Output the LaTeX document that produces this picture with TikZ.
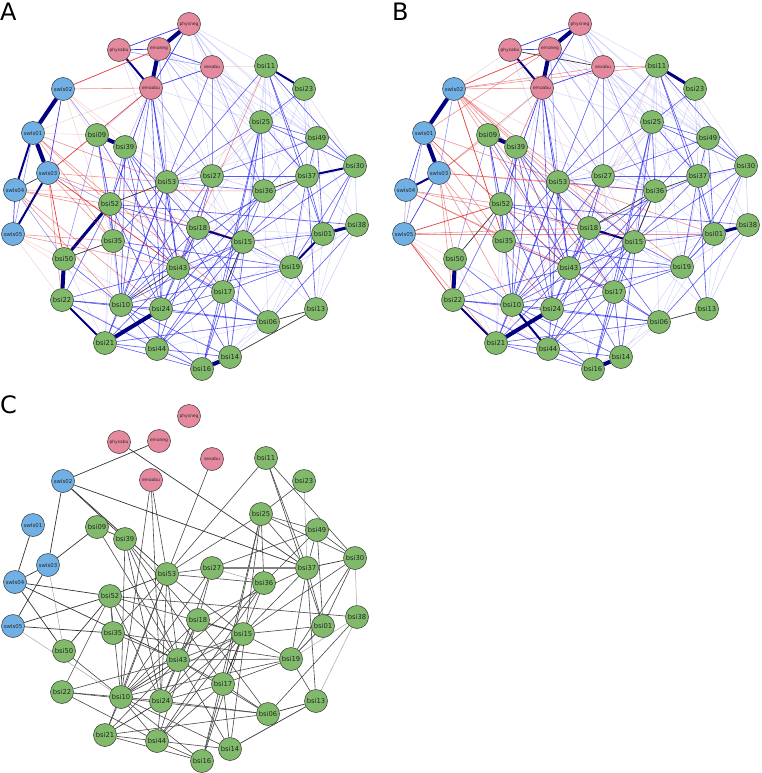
\documentclass[tikz,border=0pt]{standalone}
\usepackage{fontspec}
\setmainfont{DejaVu Sans}
\pgfdeclarelayer{bg}
\pgfsetlayers{bg,main}
\definecolor{gfill}{RGB}{128,186,106}
\definecolor{bfill}{RGB}{112,176,228}
\definecolor{pfill}{RGB}{229,138,158}
\definecolor{posc}{RGB}{25,25,235}
\definecolor{navyc}{RGB}{0,0,128}
\definecolor{negc}{RGB}{222,40,40}
\tikzset{
 vbase/.style={circle,draw=black!80,line width=0.5pt,minimum size=23pt,inner sep=0pt},
 gnode/.style={vbase,fill=gfill,font=\fontsize{6.8}{6}\selectfont,text=black!85},
 bnode/.style={vbase,fill=bfill,font=\fontsize{5.4}{5}\selectfont,text=black!85},
 pnode/.style={vbase,fill=pfill,font=\fontsize{4.4}{4}\selectfont,text=black!85},
 panellabel/.style={anchor=base west,inner sep=0pt,font=\fontsize{24}{24}\selectfont},
 w9/.style={draw=navyc,line width=4pt},
 w8/.style={draw=navyc,line width=3pt},
 w7/.style={draw=navyc,line width=2pt},
 w5/.style={draw=posc,line width=0.7pt,draw opacity=0.85},
 w3/.style={draw=posc,line width=0.6pt,draw opacity=0.45},
 w1/.style={draw=posc,line width=0.5pt,draw opacity=0.18},
 r5/.style={draw=negc,line width=0.7pt,draw opacity=0.9},
 r3/.style={draw=negc,line width=0.6pt,draw opacity=0.5},
 r1/.style={draw=negc,line width=0.5pt,draw opacity=0.22},
 ek/.style={draw=black!80,line width=0.7pt},
 eg/.style={draw=black!35,line width=0.5pt},
 egthick/.style={draw=black!50,line width=1.3pt},
 edgeam/.style={draw=posc,line width=0.6pt,draw opacity=0.72},
 edgeal/.style={draw=posc,line width=0.5pt,draw opacity=0.25},
 edgebm/.style={draw=posc,line width=0.6pt,draw opacity=0.72},
 edgebl/.style={draw=posc,line width=0.5pt,draw opacity=0.25},
 edgecm/.style={draw=black!72,line width=0.6pt},
 edgecl/.style={draw=black!35,line width=0.5pt},
}
\def\NodeList{physneg/189/24/pnode, physabu/119/50/pnode, emoneg/159/49/pnode, sexabu/212/67/pnode, emoabu/151/88/pnode,
swls02/63/89/bnode, swls01/33/133/bnode, swls03/48/173/bnode, swls04/15/190/bnode, swls05/13/234/bnode,
bsi11/266/66/gnode, bsi23/304/89/gnode, bsi25/261/122/gnode, bsi49/317/138/gnode, bsi30/355/166/gnode,
bsi37/307/176/gnode, bsi36/264/191/gnode, bsi27/212/176/gnode, bsi53/167/182/gnode, bsi09/97/135/gnode,
bsi39/125/147/gnode, bsi52/110/204/gnode, bsi35/113/241/gnode, bsi50/64/259/gnode, bsi22/62/300/gnode,
bsi10/121/305/gnode, bsi24/161/309/gnode, bsi21/105/343/gnode, bsi44/157/349/gnode, bsi16/202/369/gnode,
bsi14/230/357/gnode, bsi06/268/322/gnode, bsi13/316/309/gnode, bsi17/223/292/gnode, bsi43/178/268/gnode,
bsi18/198/228/gnode, bsi15/243/242/gnode, bsi19/291/267/gnode, bsi01/323/234/gnode, bsi38/357/225/gnode}
\def\CoreEdges{bsi11/bsi53/m, bsi11/bsi37/m, bsi11/bsi30/m, bsi11/bsi01/m, bsi23/bsi25/m, bsi23/bsi37/l,
bsi25/bsi53/m, bsi25/bsi49/m, bsi25/bsi30/m, bsi25/bsi36/m, bsi25/bsi37/m, bsi25/bsi17/m, bsi25/bsi14/m, bsi25/bsi16/m,
bsi49/bsi37/m, bsi49/bsi30/m, bsi49/bsi27/m, bsi49/bsi36/m, bsi49/bsi01/m, bsi37/bsi27/m, bsi37/bsi01/m, bsi37/bsi19/m,
bsi37/bsi15/m, bsi37/bsi18/m, bsi37/bsi13/m, bsi30/bsi38/l, bsi30/bsi01/m, bsi30/bsi19/m, bsi30/bsi15/m,
bsi27/bsi53/m, bsi27/bsi18/m, bsi27/bsi43/m, bsi27/bsi36/l, bsi27/bsi10/m, bsi53/bsi35/m, bsi53/bsi43/m, bsi53/bsi24/m,
bsi53/bsi10/m, bsi53/bsi36/m, bsi53/bsi15/m, bsi53/bsi21/m, bsi39/bsi43/m, bsi39/bsi10/m, bsi39/bsi24/m, bsi39/bsi18/m,
bsi39/bsi17/m, bsi09/bsi43/m, bsi52/bsi35/m, bsi52/bsi22/m, bsi52/bsi43/m, bsi52/bsi38/m, bsi52/bsi10/m, bsi52/bsi24/m,
bsi52/bsi15/m, bsi35/bsi43/m, bsi35/bsi19/m, bsi50/bsi10/m, bsi22/bsi06/m, bsi22/bsi10/m, bsi22/bsi43/m, bsi22/bsi44/m,
bsi10/bsi24/m, bsi10/bsi21/m, bsi10/bsi44/m, bsi10/bsi14/m, bsi10/bsi16/m, bsi10/bsi18/m, bsi10/bsi15/m, bsi10/bsi19/m,
bsi24/bsi44/m, bsi24/bsi43/m, bsi24/bsi06/m, bsi24/bsi15/m, bsi24/bsi17/m, bsi24/bsi18/m, bsi21/bsi44/m, bsi21/bsi16/m,
bsi21/bsi06/m, bsi21/bsi43/m, bsi44/bsi16/m, bsi44/bsi14/m, bsi44/bsi17/m, bsi44/bsi15/m, bsi44/bsi18/m, bsi16/bsi17/m,
bsi16/bsi15/m, bsi14/bsi17/m, bsi14/bsi43/m, bsi06/bsi17/m, bsi06/bsi38/m, bsi06/bsi43/m, bsi06/bsi18/m, bsi13/bsi19/m,
bsi13/bsi38/l, bsi17/bsi43/m, bsi17/bsi19/m, bsi43/bsi19/m, bsi43/bsi18/m, bsi43/bsi15/m, bsi15/bsi01/m, bsi15/bsi19/m,
bsi19/bsi38/l, bsi36/bsi17/m, bsi36/bsi10/m, bsi36/bsi24/m, bsi36/bsi44/m,
emoabu/bsi53/m, emoabu/bsi10/m, emoabu/bsi24/m, sexabu/bsi53/m}
\def\PaleEdges{bsi11/bsi25/w1, bsi11/bsi49/w1, bsi11/bsi36/w1, bsi11/bsi27/w1, bsi11/bsi15/w1, bsi11/bsi19/w1,
bsi23/bsi49/w1, bsi23/bsi30/w1, bsi23/bsi36/w1, bsi23/bsi01/w1, bsi23/bsi27/w1, bsi25/bsi27/w1, bsi25/bsi15/w1,
bsi25/bsi18/w1, bsi49/bsi38/w1, bsi49/bsi19/w1, bsi49/bsi53/w1, bsi30/bsi13/w1, bsi30/bsi36/w1, bsi37/bsi38/w1,
bsi37/bsi53/w1, bsi36/bsi19/w1, bsi36/bsi01/w1, bsi36/bsi06/w1, bsi27/bsi15/w1, bsi27/bsi17/w1, bsi27/bsi39/w1,
bsi27/bsi24/w1, bsi53/bsi18/w1, bsi53/bsi17/w1, bsi53/bsi44/w1, bsi39/bsi35/w1, bsi39/bsi52/w1, bsi39/bsi53/w1,
bsi09/bsi35/w1, bsi09/bsi10/w1, bsi52/bsi18/w1, bsi52/bsi21/w1, bsi35/bsi10/w1, bsi35/bsi24/w1, bsi35/bsi18/w1,
bsi35/bsi21/w1, bsi50/bsi21/w1, bsi50/bsi24/w1, bsi22/bsi24/w1, bsi22/bsi16/w1, bsi44/bsi06/w1, bsi16/bsi06/w1,
bsi14/bsi06/w1, bsi14/bsi15/w1, bsi14/bsi19/w1, bsi16/bsi43/w1, bsi06/bsi19/w1, bsi06/bsi01/w1, bsi13/bsi01/w1,
bsi13/bsi15/w1, bsi17/bsi01/w1, bsi17/bsi18/w1, bsi18/bsi19/w1, bsi18/bsi01/w1, bsi15/bsi38/w1, bsi43/bsi01/w1,
emoabu/bsi39/w1, emoabu/bsi09/w1, emoabu/bsi35/w1, emoabu/bsi18/w1, emoabu/bsi25/w1, emoneg/bsi25/w1, emoneg/bsi49/w1,
physneg/bsi25/w1, physneg/bsi37/w1, physneg/bsi30/w1, sexabu/bsi49/w1, sexabu/bsi37/w1, sexabu/bsi30/w1,
sexabu/bsi01/w1, physabu/bsi53/w1, emoneg/bsi27/w1, emoabu/bsi43/w5, emoabu/bsi52/w5, emoabu/bsi27/w3,
sexabu/bsi36/w3, sexabu/bsi27/w3, emoneg/bsi36/w3, emoneg/bsi53/w3, physneg/bsi36/w1, physneg/bsi27/w1,
sexabu/bsi25/w1, physneg/bsi49/w1, emoneg/bsi37/w1, physabu/bsi15/w1, physneg/bsi11/w1,
bsi09/bsi52/w5, bsi09/bsi35/w3, bsi39/bsi52/w3, bsi09/bsi50/w3, bsi39/bsi35/w3}
\def\AEdges{physneg/emoneg/w9, emoneg/emoabu/w9, physabu/emoabu/w7, physneg/physabu/w5, physabu/emoneg/w5,
emoneg/sexabu/w5, physneg/sexabu/w3, physneg/emoabu/w5, emoabu/sexabu/w5, physabu/sexabu/w3,
swls02/swls01/w9, swls01/swls03/w9, swls03/swls05/w7, swls01/swls04/w7, swls03/swls04/ek, swls02/swls03/w5,
swls04/swls05/w5, swls01/swls05/w3,
bsi09/bsi39/w9, bsi11/bsi23/w7, bsi37/bsi30/w7, bsi52/bsi50/w8, bsi50/bsi22/w9, bsi22/bsi21/w7, bsi21/bsi24/w9,
bsi16/bsi14/w9, bsi18/bsi15/w7, bsi01/bsi38/w8, bsi01/bsi19/w7, bsi53/bsi52/ek, bsi15/bsi17/ek, bsi37/bsi36/ek,
bsi06/bsi13/ek, bsi14/bsi13/ek, bsi10/bsi43/ek, bsi35/bsi50/ek,
swls02/emoneg/r5, swls02/emoabu/r3, swls02/bsi35/r1, swls02/bsi39/r1, swls02/bsi43/r1, emoabu/swls03/r5,
emoabu/swls01/r1, swls01/bsi52/r3, swls01/bsi35/r3, swls01/bsi17/r3, swls01/bsi53/r3, swls03/bsi50/r5,
swls03/bsi22/r3, swls03/bsi43/r5, swls03/bsi35/r3, swls03/bsi15/r3, swls03/bsi53/r3, swls04/bsi36/r3,
swls04/bsi52/r3, swls04/bsi18/r3, swls04/bsi24/r3, swls04/bsi10/r3, swls05/bsi50/r1, swls05/bsi22/r1,
swls05/bsi10/r1, swls05/bsi43/r3, swls05/bsi35/r3, swls02/bsi19/r1, emoabu/bsi39/r1, bsi11/bsi43/r3,
bsi25/bsi35/r1, sexabu/bsi11/r1, swls02/bsi09/w3, swls03/bsi52/w3, swls04/bsi50/w3, swls01/bsi09/r1}
\def\BEdges{physneg/emoneg/w9, emoneg/emoabu/w9, physabu/emoabu/w7, physabu/sexabu/ek, physneg/physabu/w5,
physabu/emoneg/w5, physneg/emoabu/w5, physneg/sexabu/w3, emoabu/sexabu/w5, emoneg/sexabu/w3,
swls02/swls01/w9, swls01/swls03/w9, swls03/swls04/w7, swls04/swls05/eg, swls01/swls04/w5, swls02/swls03/w3,
swls01/swls05/w3, swls03/swls05/w5,
bsi09/bsi39/w9, bsi11/bsi23/w8, bsi50/bsi22/w9, bsi22/bsi21/w7, bsi21/bsi24/w9, bsi10/bsi44/w7, bsi16/bsi14/w9,
bsi18/bsi15/w7, bsi01/bsi38/w8, bsi37/bsi36/ek, bsi06/bsi13/ek, bsi52/bsi50/ek, bsi36/bsi15/ek, bsi18/bsi36/ek,
bsi37/bsi30/w5, bsi01/bsi19/w5,
swls02/emoneg/r5, swls02/emoabu/r3, swls02/bsi11/r3, swls02/sexabu/r3, swls02/bsi35/r5, swls02/bsi43/r3,
swls02/bsi18/r3, swls02/bsi15/r3, swls02/bsi17/r3, swls02/bsi53/r3, swls02/bsi36/r1, swls02/bsi19/r3,
emoabu/swls03/r3, physabu/swls02/r1, emoneg/swls01/r3, swls01/bsi52/r3, swls01/bsi35/r3, swls01/bsi43/r3,
swls01/bsi01/r3, swls03/bsi50/r3, swls03/bsi22/r3, swls03/bsi10/r3, swls03/bsi24/r3, swls03/bsi53/r3,
swls03/bsi36/r3, swls04/bsi52/r3, swls04/bsi18/r3, swls04/bsi43/r3, swls04/bsi17/r3, swls05/bsi22/r5,
swls05/bsi52/r5, swls05/bsi01/r3, swls05/bsi18/r3, swls05/bsi50/r1, swls05/bsi21/r3, swls05/bsi44/r1,
bsi11/bsi43/r1, sexabu/bsi11/r3, emoabu/bsi39/r3, bsi09/swls03/r3, bsi25/bsi10/r1, bsi36/bsi44/r1, bsi27/bsi21/r1}
\def\CEdges{swls02/emoneg/ek, physabu/bsi37/ek, swls02/swls03/ek, swls02/bsi39/ek, swls02/bsi53/ek, swls02/bsi37/ek,
swls01/swls04/ek, swls03/bsi09/ek, swls03/swls04/ek, swls03/bsi50/eg, swls03/swls05/ek, swls04/bsi52/ek,
swls04/bsi50/ek, swls04/bsi43/ek, swls05/bsi52/ek, swls05/bsi35/ek, swls05/bsi10/eg, bsi09/bsi39/ek,
bsi53/bsi52/ek, bsi52/bsi50/ek, bsi01/bsi19/ek, bsi06/bsi13/ek, bsi14/bsi13/ek, bsi15/bsi17/ek, bsi10/bsi43/ek,
bsi37/bsi30/ek, bsi21/bsi24/ek, bsi18/bsi15/ek, bsi37/bsi27/egthick}
\newcommand\drawpanel[5]{% prefix, ox, oy, specific list, with pale
 \foreach \n/\x/\y/\t in \NodeList {%
  \edef\tmp{\noexpand\node[\t] (#1-\n) at (\x+#2,\y+#3) {\n};}\tmp}
 \begin{pgfonlayer}{bg}
 \ifnum#5=1
 \foreach \u/\v/\s in \PaleEdges {%
  \edef\tmp{\noexpand\draw[\s] (#1-\u) -- (#1-\v);}\tmp}
 \fi
 \foreach \u/\v/\s in \CoreEdges {%
  \edef\tmp{\noexpand\draw[edge#1\s] (#1-\u) -- (#1-\v);}\tmp}
 \foreach \u/\v/\s in #4 {%
  \edef\tmp{\noexpand\draw[\s] (#1-\u) -- (#1-\v);}\tmp}
 \end{pgfonlayer}
}
\begin{document}
\begin{tikzpicture}[x=1pt,y=-1pt]
\useasboundingbox (0,0) rectangle (762,773);
\drawpanel{a}{0}{0}{\AEdges}{1}
\drawpanel{b}{391}{0}{\BEdges}{1}
\drawpanel{c}{0}{392}{\CEdges}{0}
\node[panellabel] (labA) at (0,21) {A};
\node[panellabel] (labB) at (392,21) {B};
\node[panellabel] (labC) at (0,413) {C};
\end{tikzpicture}
\end{document}
